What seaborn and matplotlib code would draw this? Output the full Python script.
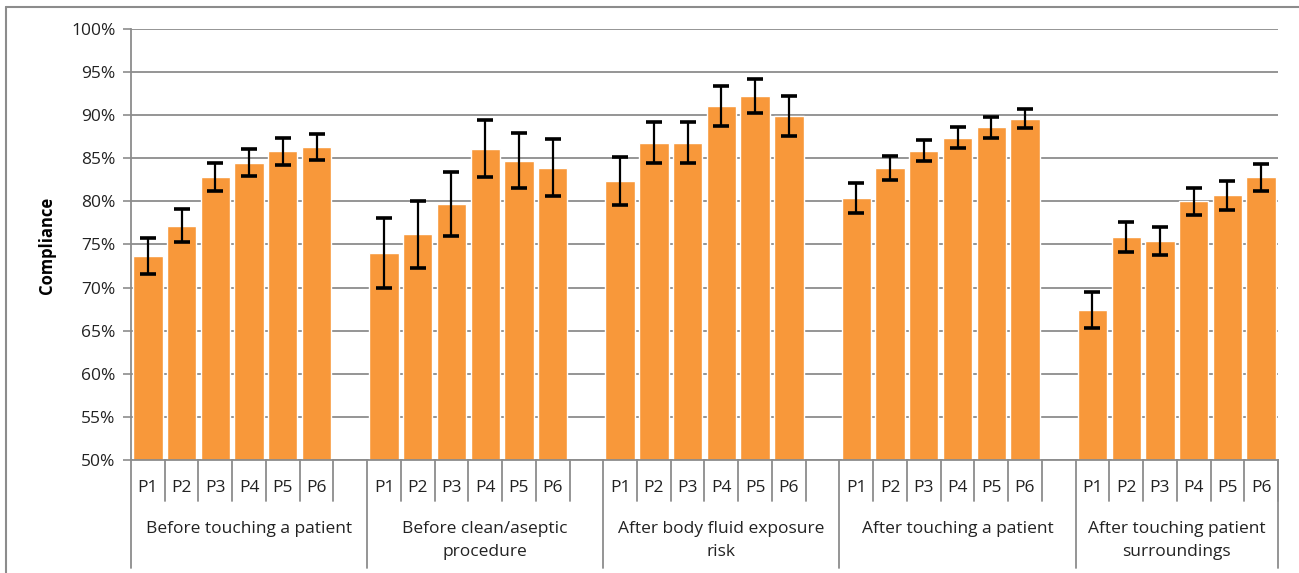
import numpy as np
import pandas as pd
import matplotlib
matplotlib.use("Agg")
import matplotlib.pyplot as plt
import matplotlib.transforms as mtransforms
import seaborn as sns

# moments / groups
groups = [
    "Before touching a patient",
    "Before clean/aseptic\nprocedure",
    "After body fluid exposure\nrisk",
    "After touching a patient",
    "After touching patient\nsurroundings",
]
periods = ["P1", "P2", "P3", "P4", "P5", "P6"]

# compliance (%) per group, P1..P6
before_patient = [73.7, 77.2, 82.8, 84.5, 85.8, 86.3]
before_aseptic = [74.0, 76.2, 79.7, 86.1, 84.7, 83.9]
after_fluid = [82.4, 86.8, 86.8, 91.1, 92.2, 89.9]
after_patient = [80.4, 83.9, 85.9, 87.4, 88.6, 89.6]
after_surround = [67.4, 75.9, 75.4, 80.0, 80.7, 82.8]

# half-width of the error bars (%)
err_before_patient = [2.1, 1.9, 1.6, 1.6, 1.6, 1.5]
err_before_aseptic = [4.1, 3.9, 3.7, 3.3, 3.2, 3.3]
err_after_fluid = [2.8, 2.4, 2.4, 2.3, 2.0, 2.3]
err_after_patient = [1.7, 1.4, 1.25, 1.2, 1.2, 1.1]
err_after_surround = [2.1, 1.75, 1.65, 1.6, 1.7, 1.55]

values = [before_patient, before_aseptic, after_fluid, after_patient, after_surround]
errors = [err_before_patient, err_before_aseptic, err_after_fluid,
          err_after_patient, err_after_surround]

rows = []
order = []
for gi, g in enumerate(groups):
    for pi, p in enumerate(periods):
        key = f"g{gi}_{p}"
        order.append(key)
        rows.append({"slot": key, "group": g, "period": p,
                     "compliance": values[gi][pi], "err": errors[gi][pi]})
    if gi < len(groups) - 1:
        order.append(f"gap{gi}")  # empty slot between groups
df = pd.DataFrame(rows)

sns.set_theme(style="white")
plt.rcParams["font.family"] = ["Open Sans", "DejaVu Sans"]

W, H = 1299, 573
fig = plt.figure(figsize=(W / 100, H / 100), dpi=100)
ax_l, ax_r, ax_t, ax_b = 131, 1278, 29, 460
ax = fig.add_axes([ax_l / W, 1 - ax_b / H, (ax_r - ax_l) / W, (ax_b - ax_t) / H])

bar_color = "#F8983A"
grid_color = "#8C8C8C"
text_color = "#222222"
fs = 12.5

sns.barplot(data=df, x="slot", y="compliance", order=order, color=bar_color,
            saturation=1, width=0.87, errorbar=None, ax=ax)

xpos = [order.index(s) for s in df["slot"]]
ax.errorbar(xpos, df["compliance"], yerr=df["err"], fmt="none", ecolor="black",
            elinewidth=1.6, capsize=5.5, capthick=2.6, zorder=3)

ax.set_ylim(50, 100)
ax.set_xlim(-0.5, len(order) - 0.5)
ax.set_yticks(np.arange(50, 101, 5))
ax.set_yticklabels([f"{int(t)}%" for t in np.arange(50, 101, 5)],
                   fontsize=fs, color=text_color)
ax.yaxis.grid(True, color=grid_color, linewidth=1.3)
ax.set_axisbelow(True)
ax.tick_params(axis="y", which="both", left=True, length=6, width=1.2,
               color=grid_color, pad=5)
ax.set_xticks([])
ax.set_xlabel("")
ax.set_ylabel("")
for side in ["top", "right"]:
    ax.spines[side].set_visible(False)
for side in ["left", "bottom"]:
    ax.spines[side].set_color(grid_color)
    ax.spines[side].set_linewidth(1.3)

# two-level category axis drawn below the plot
trans = mtransforms.blended_transform_factory(ax.transData, ax.transAxes)
h_px = ax_b - ax_t
def yfrac(ypix):
    return (ax_b - ypix) / h_px

short_bottom = yfrac(501)
long_bottom = yfrac(568)
start = 0
for gi, g in enumerate(groups):
    n = 7 if gi < len(groups) - 1 else 6
    # group boundary (long line)
    ax.plot([start - 0.5, start - 0.5], [0, long_bottom], transform=trans,
            color=grid_color, lw=1.3, clip_on=False)
    for pi, p in enumerate(periods):
        x = start + pi
        ax.text(x, yfrac(488), p, transform=trans, ha="center", va="center",
                fontsize=fs, color=text_color)
        if pi > 0:
            ax.plot([x - 0.5, x - 0.5], [0, short_bottom], transform=trans,
                    color=grid_color, lw=1.3, clip_on=False)
    ax.plot([start + 5.5, start + 5.5], [0, short_bottom], transform=trans,
            color=grid_color, lw=1.3, clip_on=False)
    ax.text(start + (n - 1) / 2, yfrac(521), g, transform=trans, ha="center",
            va="top", fontsize=fs, color=text_color, linespacing=1.6,
            multialignment="center")
    start += n
ax.plot([start - 0.5, start - 0.5], [0, long_bottom], transform=trans,
        color=grid_color, lw=1.3, clip_on=False)

fig.text(47 / W, 1 - 245 / H, "Compliance", rotation=90, ha="center",
         va="center", fontsize=12, fontweight="bold", color="black")

# outer chart border (cropped on the right and bottom)
fig.add_artist(plt.Line2D([6 / W, 1], [1 - 7 / H, 1 - 7 / H], color=grid_color,
                          lw=1.5, transform=fig.transFigure))
fig.add_artist(plt.Line2D([6 / W, 6 / W], [1 - 7 / H, 0], color=grid_color,
                          lw=1.5, transform=fig.transFigure))

fig.savefig("out.png", dpi=100)
